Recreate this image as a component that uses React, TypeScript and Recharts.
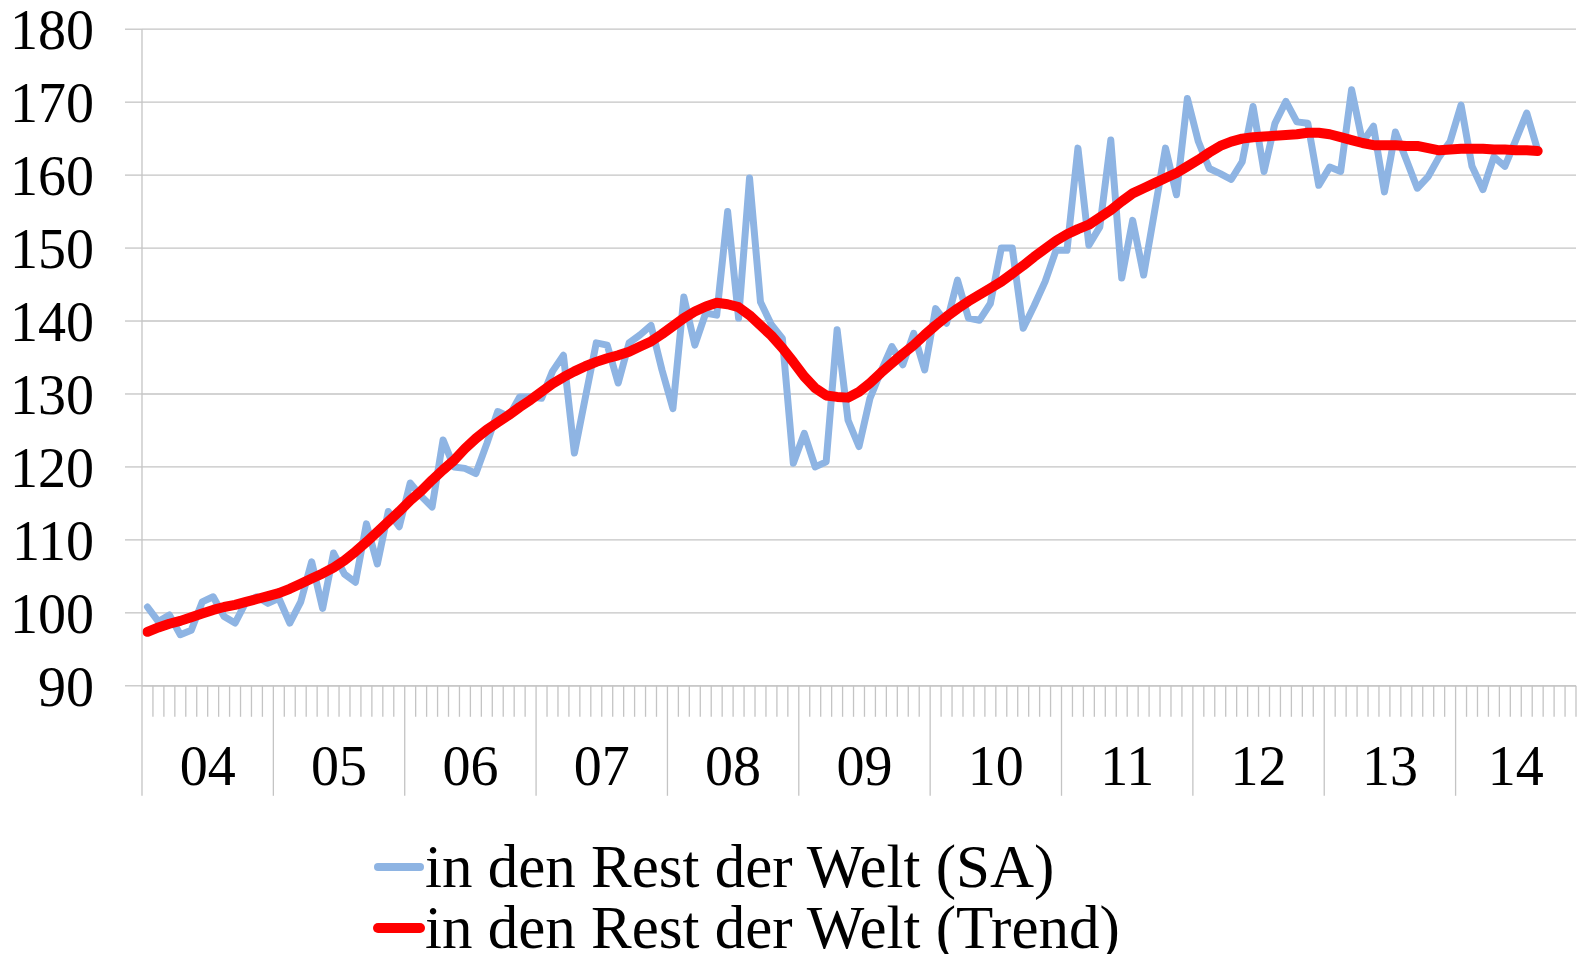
import React from 'react';
import { LineChart, Line, XAxis, YAxis, CartesianGrid, Legend } from 'recharts';

const saValues = [
  100.8, 98.8, 99.7, 97.0, 97.6, 101.5, 102.2, 99.5, 98.6, 101.5, 102.2, 101.3,
  102.0, 98.6, 101.5, 107.0, 100.6, 108.2, 105.3, 104.2, 112.2, 106.7, 113.9, 111.8,
  117.8, 116.0, 114.5, 123.7, 120.0, 119.8, 119.1, 123.2, 127.6, 126.9, 129.6, 129.6,
  129.4, 133.1, 135.3, 121.9, 129.5, 137.0, 136.7, 131.5, 137.0, 138.1, 139.4, 133.3,
  128.0, 143.3, 136.7, 141.1, 140.8, 155.0, 140.4, 159.6, 142.6, 139.5, 137.6, 120.5,
  124.6, 120.0, 120.7, 138.8, 126.4, 122.8, 129.4, 133.1, 136.5, 134.0, 138.3, 133.3,
  141.7, 139.7, 145.6, 140.4, 140.1, 142.4, 150.0, 150.0, 139.0, 142.1, 145.4, 149.7,
  149.7, 163.7, 150.4, 152.9, 164.8, 145.9, 153.8, 146.3, 155.0, 163.7, 157.3, 170.5,
  164.6, 160.9, 160.2, 159.4, 161.8, 169.4, 160.5, 167.1, 170.1, 167.3, 167.1, 158.6,
  161.1, 160.5, 171.7, 164.5, 166.7, 157.7, 165.9, 162.1, 158.2, 159.8, 162.5, 164.6,
  169.6, 161.2, 158.0, 162.5, 161.2, 164.8, 168.5, 163.4,
];

const trendValues = [
  97.4, 98.0, 98.5, 98.9, 99.4, 99.9, 100.4, 100.8, 101.1, 101.5, 101.9, 102.3,
  102.7, 103.3, 104.0, 104.7, 105.4, 106.2, 107.2, 108.4, 109.7, 111.1, 112.5, 113.9,
  115.4, 116.7, 118.2, 119.6, 120.9, 122.5, 123.9, 125.1, 126.1, 127.1, 128.2, 129.2,
  130.3, 131.4, 132.3, 133.1, 133.8, 134.4, 134.9, 135.3, 135.8, 136.5, 137.2, 138.2,
  139.3, 140.4, 141.3, 142.0, 142.5, 142.3, 141.9, 140.8, 139.4, 138.0, 136.3, 134.4,
  132.4, 130.8, 129.8, 129.6, 129.5, 130.3, 131.5, 132.9, 134.2, 135.5, 136.7, 138.1,
  139.4, 140.6, 141.7, 142.7, 143.6, 144.5, 145.4, 146.5, 147.6, 148.8, 149.9, 151.0,
  151.9, 152.6, 153.2, 154.2, 155.2, 156.4, 157.5, 158.2, 158.9, 159.6, 160.3, 161.2,
  162.1, 163.1, 164.0, 164.6, 165.0, 165.2, 165.3, 165.4, 165.5, 165.6, 165.8, 165.8,
  165.6, 165.2, 164.8, 164.4, 164.1, 164.1, 164.1, 164.0, 164.0, 163.7, 163.4, 163.5,
  163.6, 163.6, 163.6, 163.5, 163.5, 163.4, 163.4, 163.3,
];

const yearLabels = ['04', '05', '06', '07', '08', '09', '10', '11', '12', '13', '14'];
const yTicks = [90, 100, 110, 120, 130, 140, 150, 160, 170, 180];
const monthCount = 131;
const seriesNames = ['in den Rest der Welt (SA)', 'in den Rest der Welt (Trend)'];
const seriesColors = ['#8EB4E3', '#FF0000'];

const data = saValues.map((v, i) => ({ i, sa: v, trend: trendValues[i] }));

const boundaries: number[] = [];
for (let k = 0; k <= monthCount; k++) boundaries.push(k - 0.5);
const labelMap: Record<string, string> = {};
yearLabels.forEach((lab, j) => {
  const start = 12 * j;
  const end = Math.min(12 * j + 12, monthCount);
  labelMap[String((start + end) / 2 - 0.5)] = lab;
});
const xTicks = Array.from(
  new Set([...boundaries, ...Object.keys(labelMap).map(Number)])
).sort((a, b) => a - b);

const FONT = '"Liberation Serif", "Times New Roman", serif';
const GRID = '#C4C4C4';

const XTick = (props: any) => {
  const { x, y, payload } = props;
  const v = payload.value as number;
  const k = v + 0.5;
  const isBoundary = Math.abs(k - Math.round(k)) < 1e-6;
  const isYear = isBoundary && Math.round(k) % 12 === 0;
  const label = labelMap[String(v)];
  return (
    <g>
      {isBoundary && (
        <line x1={x} y1={y} x2={x} y2={y + (isYear ? 110 : 31)} stroke={GRID} strokeWidth={1.3} />
      )}
      {label && (
        <text x={x} y={y + 80} textAnchor="middle" dominantBaseline="central" fontSize={56} fontFamily={FONT} fill="#000">
          {label}
        </text>
      )}
    </g>
  );
};

const renderLegend = () => (
  <div style={{ fontFamily: FONT, fontSize: 61, color: '#000' }}>
    {seriesNames.map((name, idx) => (
      <div key={name} style={{ display: 'flex', alignItems: 'center', height: 61, whiteSpace: 'nowrap' }}>
        <svg width={52} height={20} style={{ display: 'block' }}>
          <line x1={5} y1={10} x2={47} y2={10} stroke={seriesColors[idx]} strokeWidth={idx === 0 ? 8 : 10} strokeLinecap="round" />
        </svg>
        <span style={{ lineHeight: '52px' }}>{name}</span>
      </div>
    ))}
  </div>
);

export default function App() {
  return (
    <div style={{ position: 'absolute', left: 0, top: 0 }}>
      <LineChart
        width={1579}
        height={954}
        data={data}
        margin={{ top: 29.2, right: 3, left: 0, bottom: 148.2 }}
      >
        <CartesianGrid vertical={false} stroke={GRID} strokeWidth={1.3} />
        <XAxis
          dataKey="i"
          type="number"
          domain={[-0.5, monthCount - 0.5]}
          ticks={xTicks}
          interval={0}
          tickSize={0}
          tickMargin={0}
          tickLine={false}
          height={120}
          axisLine={{ stroke: GRID, strokeWidth: 1.3 }}
          tick={<XTick />}
          allowDataOverflow
        />
        <YAxis
          type="number"
          domain={[90, 180]}
          ticks={yTicks}
          interval={0}
          width={142}
          tickSize={17}
          tickMargin={31}
          tickLine={{ stroke: GRID, strokeWidth: 1.3 }}
          axisLine={{ stroke: GRID, strokeWidth: 1.3 }}
          tick={{ fontSize: 56, fontFamily: FONT, fill: '#000' }}
        />
        <Legend
          layout="vertical"
          align="center"
          verticalAlign="middle"
          content={renderLegend}
          wrapperStyle={{ top: 836, left: 373, width: 900 }}
        />
        <Line
          dataKey="sa"
          name={seriesNames[0]}
          type="linear"
          stroke={seriesColors[0]}
          strokeWidth={7}
          dot={false}
          strokeLinejoin="round"
          strokeLinecap="round"
          isAnimationActive={false}
        />
        <Line
          dataKey="trend"
          name={seriesNames[1]}
          type="linear"
          stroke={seriesColors[1]}
          strokeWidth={10}
          dot={false}
          strokeLinejoin="round"
          strokeLinecap="round"
          isAnimationActive={false}
        />
      </LineChart>
    </div>
  );
}
